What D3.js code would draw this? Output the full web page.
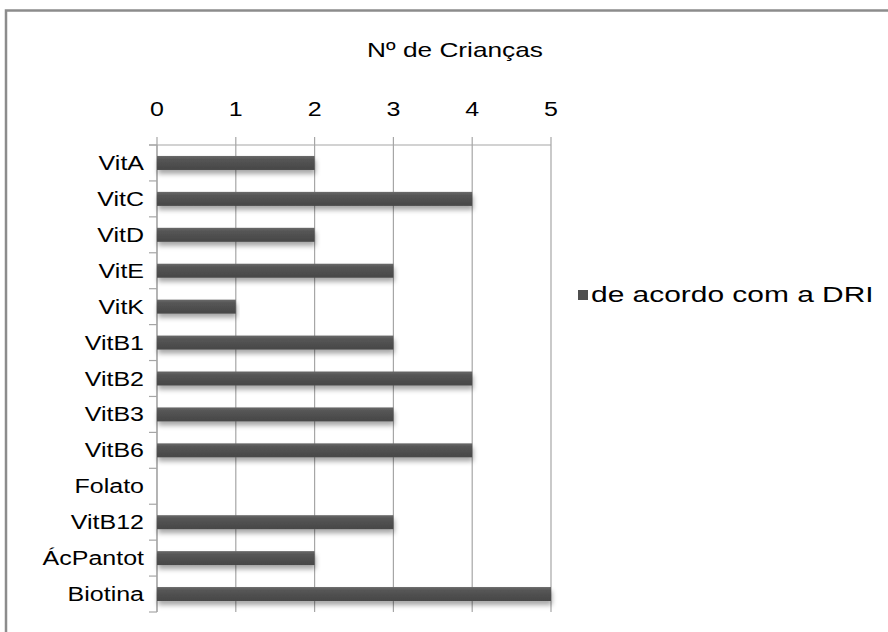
<!DOCTYPE html>
<html>
<head>
<meta charset="utf-8">
<script src="https://cdnjs.cloudflare.com/ajax/libs/d3/7.8.5/d3.min.js"></script>
<style>
  html, body { margin: 0; padding: 0; background: #fff; }
  svg { display: block; font-family: "Liberation Sans", Arial, sans-serif; }
</style>
</head>
<body>
<svg id="chart" width="888" height="632"></svg>
<script>
// Vitamins (categories, top to bottom)
const categories = ["VitA", "VitC", "VitD", "VitE", "VitK", "VitB1", "VitB2", "VitB3", "VitB6", "Folato", "VitB12", "ÁcPantot", "Biotina"];
// Number of children meeting the DRI
const values = [2, 4, 2, 3, 1, 3, 4, 3, 4, 0, 3, 2, 5];
const tickValues = [0, 1, 2, 3, 4, 5];
const seriesName = "de acordo com a DRI";
const chartTitle = "Nº de Crianças";

const svg = d3.select("#chart");
// the text in this chart is set slightly wide
const stretch = 1.25;

// outer frame (runs off the right and bottom edges)
svg.append("rect")
  .attr("x", 6).attr("y", 10.5)
  .attr("width", 900).attr("height", 640)
  .attr("fill", "none").attr("stroke", "#8c8c8c").attr("stroke-width", 2.5);

// bar shading
const defs = svg.append("defs");
const grad = defs.append("linearGradient").attr("id", "barGrad")
  .attr("x1", 0).attr("y1", 0).attr("x2", 0).attr("y2", 1);
grad.append("stop").attr("offset", "0%").attr("stop-color", "#6a6a6a");
grad.append("stop").attr("offset", "25%").attr("stop-color", "#555555");
grad.append("stop").attr("offset", "100%").attr("stop-color", "#474747");
const shadow = defs.append("filter").attr("id", "shadow")
  .attr("x", "-5%").attr("y", "-50%").attr("width", "110%").attr("height", "250%");
shadow.append("feDropShadow").attr("dx", 1).attr("dy", 4).attr("stdDeviation", 2.5)
  .attr("flood-color", "#000").attr("flood-opacity", 0.35);

const x = d3.scaleLinear().domain([0, 5]).range([157, 551]);
const y = d3.scaleBand().domain(categories).range([145, 612]).paddingInner(0).paddingOuter(0);

// vertical gridlines
svg.append("g").selectAll("line").data(tickValues).join("line")
  .attr("x1", d => x(d)).attr("x2", d => x(d))
  .attr("y1", 137).attr("y2", 612)
  .attr("stroke", "#a6a6a6").attr("stroke-width", 1.2);

// top axis line
svg.append("line")
  .attr("x1", 149).attr("x2", x(5)).attr("y1", 145).attr("y2", 145)
  .attr("stroke", "#a6a6a6").attr("stroke-width", 1.2);

// left axis and category ticks
svg.append("line")
  .attr("x1", x(0)).attr("x2", x(0)).attr("y1", 145).attr("y2", 612)
  .attr("stroke", "#a6a6a6").attr("stroke-width", 1.2);
const boundaries = categories.map(c => y(c)).concat([y.range()[1]]);
svg.append("g").selectAll("line").data(boundaries).join("line")
  .attr("x1", 149).attr("x2", x(0))
  .attr("y1", d => d).attr("y2", d => d)
  .attr("stroke", "#a6a6a6").attr("stroke-width", 1.2);

// tick labels on top
svg.append("g").selectAll("text").data(tickValues).join("text")
  .attr("transform", d => `translate(${x(d)},116) scale(${stretch},1)`)
  .attr("text-anchor", "middle")
  .attr("font-size", 20).attr("fill", "#000")
  .text(d => d);

// category labels
svg.append("g").selectAll("text").data(categories).join("text")
  .attr("transform", d => `translate(144,${y(d) + y.bandwidth() / 2 + 7}) scale(${stretch},1)`)
  .attr("text-anchor", "end")
  .attr("font-size", 20).attr("fill", "#000")
  .text(d => d);

// bars
const barH = 14;
svg.append("g").selectAll("rect").data(values.map((v, i) => ({ c: categories[i], v })))
  .join("rect")
  .attr("x", x(0))
  .attr("y", d => y(d.c) + y.bandwidth() / 2 - barH / 2)
  .attr("width", d => x(d.v) - x(0))
  .attr("height", barH)
  .attr("fill", "url(#barGrad)")
  .attr("filter", "url(#shadow)");

// title
svg.append("text")
  .attr("transform", `translate(455,57) scale(${stretch},1)`)
  .attr("text-anchor", "middle")
  .attr("font-size", 21).attr("fill", "#000")
  .text(chartTitle);

// legend
svg.append("rect")
  .attr("x", 578).attr("y", 290).attr("width", 10).attr("height", 10)
  .attr("fill", "#4f4f4f");
svg.append("text")
  .attr("transform", `translate(591,302) scale(1.36,1)`)
  .attr("font-size", 22).attr("fill", "#000")
  .text(seriesName);
</script>
</body>
</html>
